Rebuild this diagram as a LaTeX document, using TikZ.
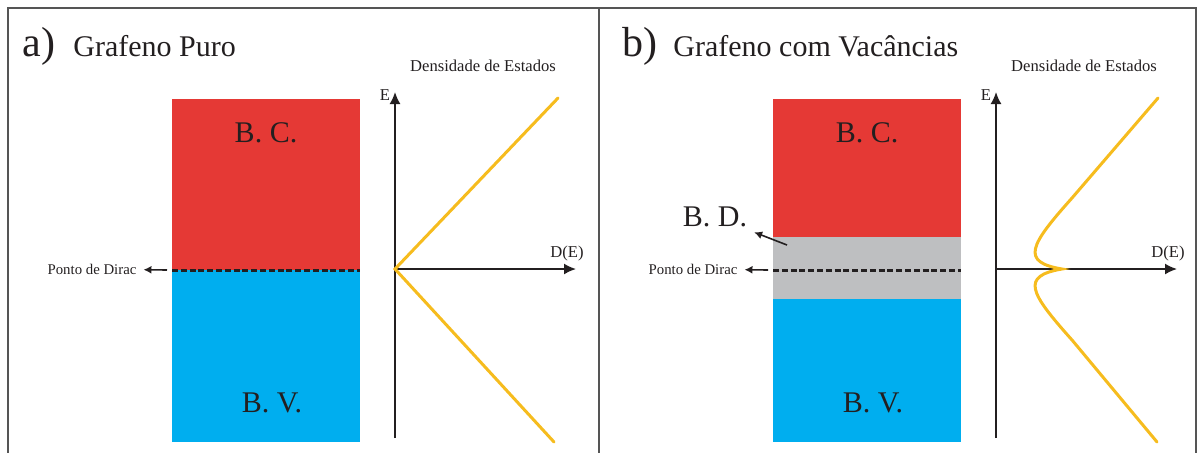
\documentclass[tikz,border=0pt]{standalone}
\usepackage{fontspec}
\setmainfont{Liberation Serif}
\usetikzlibrary{arrows.meta}
\definecolor{bandred}{RGB}{229,57,53}
\definecolor{bandblue}{RGB}{0,174,239}
\definecolor{bandgray}{RGB}{190,191,193}
\definecolor{dosyellow}{RGB}{246,188,30}
\definecolor{framegray}{RGB}{85,85,85}
\definecolor{ink}{RGB}{35,31,32}

\begin{document}
\begin{tikzpicture}[x=0.5pt,y=-0.5pt,every node/.style={text=ink},
  axis/.style={ink,line width=0.85pt,-{Latex[length=6pt,width=5.5pt]}},
  dos/.style={line width=1.5pt,dosyellow,line cap=round},
  fermi/.style={ink,line width=1.5pt,dash pattern=on 3pt off 1.4pt},
  pointer/.style={ink,line width=0.8pt,-{Latex[length=4pt,width=4pt]}},
  band/.style={font=\fontsize{15}{18}\selectfont},
  small/.style={font=\fontsize{7.4}{9}\selectfont},
  axlabel/.style={font=\fontsize{8.3}{10}\selectfont},
  panel/.style={font=\fontsize{21}{24}\selectfont,anchor=base west,inner sep=0pt},
  heading/.style={font=\fontsize{15}{18}\selectfont,anchor=base west,inner sep=0pt}]
\useasboundingbox (0,0) rectangle (1197,452);

% moldura
\draw[framegray,line width=0.75pt] (8,470) |- (1196,8) -- (1196,470);
\draw[framegray,line width=0.75pt] (599,8) -- (599,470);

% bandas
\fill[bandred] (172,99) rectangle (360,270);
\fill[bandblue] (172,270) rectangle (360,442);
\fill[bandred] (773,99) rectangle (961,237);
\fill[bandgray] (773,237) rectangle (961,299);
\fill[bandblue] (773,299) rectangle (961,442);

\foreach \dx/\p in {0/a,601/b}{
  \node[band] (bc\p) at (266+\dx,133) {B. C.};
  \node[band] (bv\p) at (272+\dx,403) {B. V.};
  \draw[fermi] (172+\dx,270) -- (360+\dx,270);
  \node[small] (dirac\p) at (92+\dx,269) {Ponto de Dirac};
  \coordinate (fermi\p) at (167+\dx,270);
  \draw[pointer] (fermi\p) -- (dirac\p);
  % eixos da densidade de estados
  \coordinate (O\p) at (395+\dx,269);
  \coordinate (Ebot\p) at (395+\dx,438);
  \coordinate (Etop\p) at (395+\dx,92);
  \coordinate (Dend\p) at (576+\dx,269);
  \draw[axis] (Ebot\p) -- (Etop\p);
  \draw[axis] (O\p) -- (Dend\p);
  \node[axlabel] (E\p) at (385+\dx,95) {E};
  \node[axlabel] (D\p) at (567+\dx,253) {D(E)};
  \node[axlabel] (dens\p) at (483+\dx,66) {Densidade de Estados};
}

% titulos
\node[panel] (taga) at (22,56) {a)};
\node[heading] (titlea) at (73,56) {Grafeno Puro};
\node[panel] (tagb) at (622,56) {b)};
\node[heading] (titleb) at (673,56) {Grafeno com Vacâncias};

% DOS
\draw[dos] (558,98) -- (Oa) -- (554,442);
\draw[dos] (1158,98) -- (1072,198) .. controls (1030,245) and (1020,262) .. (1062,269)
  .. controls (1020,276) and (1030,293) .. (1072,340) -- (1157,442);

% banda de defeitos
\node[band] (bd) at (715,217) {B. D.};
\coordinate (bdpt) at (787,245);
\draw[pointer] (bdpt) -- (bd);
\end{tikzpicture}
\end{document}
